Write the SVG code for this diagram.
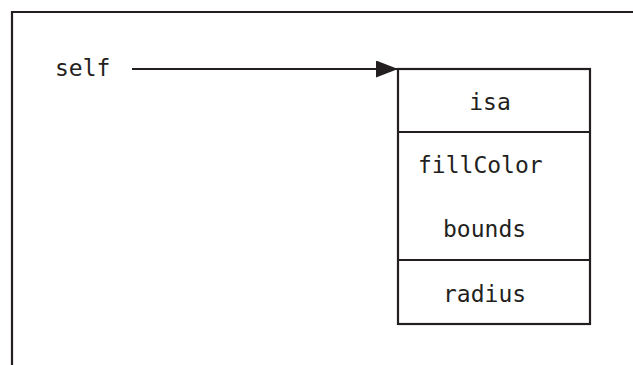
<svg xmlns="http://www.w3.org/2000/svg" width="633" height="365" viewBox="0 0 633 365">
<style>
.ln{stroke:#231f20;stroke-width:2.2;fill:none}
.t{font-family:"DejaVu Sans Mono","Liberation Mono",monospace;font-size:23px;fill:#231f20}
</style>
<defs>
<marker id="ah" markerUnits="userSpaceOnUse" markerWidth="24" markerHeight="18" refX="22" refY="8.5" orient="auto">
<path d="M0,0 L22,8.5 L0,17 Z" fill="#231f20"/>
</marker>
</defs>
<rect width="633" height="365" fill="#fff"/>
<g id="frame"><path class="ln" d="M12,365 V12 H633"/></g>
<g id="self"><text class="t" x="55" y="76">self</text></g>
<g id="object">
<rect class="ln" x="398" y="69" width="192" height="255"/>
<line class="ln" x1="398" y1="132" x2="590" y2="132"/>
<line class="ln" x1="398" y1="260" x2="590" y2="260"/>
<text class="t" x="490" y="110" text-anchor="middle">isa</text>
<text class="t" x="418" y="173">fillColor</text>
<text class="t" x="443" y="237">bounds</text>
<text class="t" x="443" y="302">radius</text>
</g>
<g id="connectors"><line class="ln" x1="132" y1="69" x2="398" y2="69" marker-end="url(#ah)"/></g>
</svg>
